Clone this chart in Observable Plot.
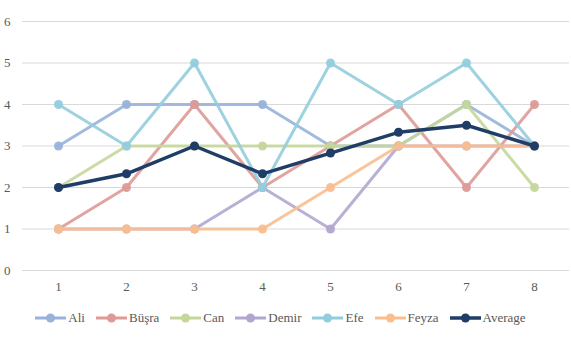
<!DOCTYPE html>
<html>
<head>
<meta charset="utf-8">
<script src="https://cdn.jsdelivr.net/npm/d3@7"></script>
<script src="https://cdn.jsdelivr.net/npm/@observablehq/plot@0.6"></script>
<style>
  body { margin: 0; background: #fff; }
  #chart { width: 571px; height: 338px; font-family: "Liberation Serif", serif; }
  .legend { display: flex; justify-content: center; align-items: center; gap: 11px; height: 36px; margin-top: 0px; font-size: 13px; color: #595959; padding-right: 10px;}
  .legend .item { display: flex; align-items: center; gap: 2px; }
  #chart svg text { font-family: "Liberation Serif", serif; }
</style>
</head>
<body>
<div id="chart"></div>
<script>
const xs = [1, 2, 3, 4, 5, 6, 7, 8];
const names = ["Ali", "Büşra", "Can", "Demir", "Efe", "Feyza", "Average"];
const ali = [3, 4, 4, 4, 3, 3, 4, 3];
const busra = [1, 2, 4, 2, 3, 4, 2, 4];
const can = [2, 3, 3, 3, 3, 3, 4, 2];
const demir = [1, 1, 1, 2, 1, 3, 3, 3];
const efe = [4, 3, 5, 2, 5, 4, 5, 3];
const feyza = [1, 1, 1, 1, 2, 3, 3, 3];
const average = [2, 2.33, 3, 2.33, 2.83, 3.33, 3.5, 3];
const yTicks = [0, 1, 2, 3, 4, 5, 6];
const colors = ["#98b3da", "#dd9a97", "#c4d79b", "#b2a6cf", "#93cddd", "#f9be8f", "#1f3d66"];

const seriesValues = [ali, busra, can, demir, efe, feyza, average];
const series = names.map((name, i) => ({
  name, color: colors[i], avg: name === "Average",
  data: xs.map((x, j) => ({x, y: seriesValues[i][j]}))
}));

const marks = [
  Plot.ruleY(yTicks, {stroke: "#d9d9d9", strokeWidth: 1})
];
for (const s of series) {
  marks.push(Plot.line(s.data, {x: "x", y: "y", stroke: s.color, strokeWidth: s.avg ? 3.5 : 3, strokeOpacity: s.avg ? 1 : 0.9}));
  marks.push(Plot.dot(s.data, {x: "x", y: "y", fill: s.color, r: 4.5, fillOpacity: s.avg ? 1 : 0.95}));
}

const plot = Plot.plot({
  width: 571,
  height: 300,
  marginLeft: 22,
  marginRight: 2,
  marginTop: 21,
  marginBottom: 30,
  style: {fontFamily: "'Liberation Serif', serif", fontSize: "13px", color: "#595959", background: "#fff"},
  x: {type: "point", domain: xs, padding: 0.5, tickSize: 0, tickPadding: 11, label: null, tickFormat: d3.format("d")},
  y: {domain: [0, 6], ticks: yTicks, tickSize: 0, tickPadding: 12, label: null, tickFormat: d3.format("d")},
  marks
});
document.getElementById("chart").appendChild(plot);

const legend = document.createElement("div");
legend.className = "legend";
for (const s of series) {
  const item = document.createElement("div");
  item.className = "item";
  const sw = d3.create("svg").attr("width", 31).attr("height", 12);
  sw.append("line").attr("x1", 0).attr("x2", 31).attr("y1", 6).attr("y2", 6)
    .attr("stroke", s.color).attr("stroke-width", s.avg ? 3.5 : 3);
  sw.append("circle").attr("cx", 15.5).attr("cy", 6).attr("r", 4.5).attr("fill", s.color);
  item.appendChild(sw.node());
  const t = document.createElement("span");
  t.textContent = s.name;
  item.appendChild(t);
  legend.appendChild(item);
}
document.getElementById("chart").appendChild(legend);
</script>
</body>
</html>
